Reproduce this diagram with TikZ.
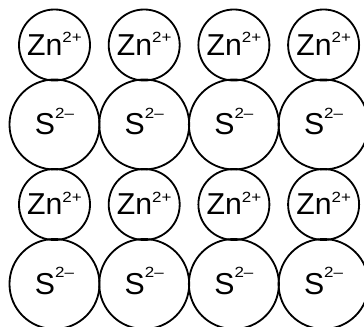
\documentclass[tikz,border=0pt]{standalone}
\usepackage{fontspec}
\setmainfont{Liberation Sans}
\usetikzlibrary{positioning}

\newcommand{\ionlabel}[3][9pt]{#2\smash{\raisebox{#1}{\scalebox{1.15}[1]{\fontsize{10.5}{10.5}\selectfont #3}}}}

\begin{document}
\begin{tikzpicture}[x=0.025cm, y=-0.025cm,
    cation/.style={draw, circle, line width=1.3pt, inner sep=0pt, minimum size=1.775cm, font=\fontsize{21.5}{21.5}\selectfont},
    anion/.style={draw, circle, line width=1.3pt, inner sep=0pt, minimum size=2.25cm, font=\fontsize{21.5}{21.5}\selectfont}]
    \useasboundingbox (0,0) rectangle (364,327);
    \clip (0,0) rectangle (364,327);

    \foreach \col in {1,...,4} {
        \pgfmathsetmacro{\xc}{54.5+89.7*(\col-1)}
        \node[cation] (zn-1-\col) at (\xc,45) {\ionlabel{Zn}{2+}};
        \node[anion] (s-1-\col) at (\xc,124.5) {\ionlabel[12pt]{S}{2–}};
        \node[cation] (zn-2-\col) at (\xc,204.5) {\ionlabel{Zn}{2+}};
        \node[anion] (s-2-\col) at (\xc,284) {\ionlabel[12pt]{S}{2–}};
    }
\end{tikzpicture}
\end{document}
